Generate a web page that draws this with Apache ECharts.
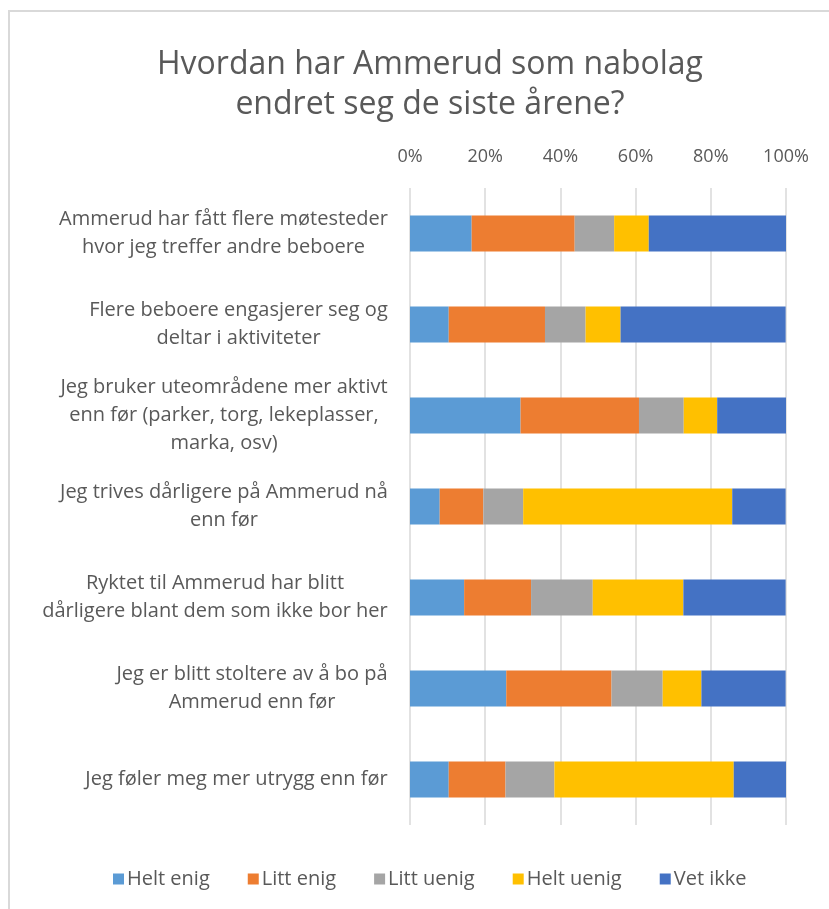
<!DOCTYPE html>
<html>
<head>
<meta charset="utf-8">
<script src="https://cdn.jsdelivr.net/npm/echarts@6/dist/echarts.min.js"></script>
<style>
  html, body { margin: 0; padding: 0; background: #fff; }
  #main { width: 829px; height: 909px; }
</style>
</head>
<body>
<div id="main"></div>
<script>
// kategorier (linjeskift slik de vises i figuren)
var categories = [
  'Ammerud har fått flere møtesteder\nhvor jeg treffer andre beboere',
  'Flere beboere engasjerer seg og\ndeltar i aktiviteter',
  'Jeg bruker uteområdene mer aktivt\nenn før (parker, torg, lekeplasser,\nmarka, osv)',
  'Jeg trives dårligere på Ammerud nå\nenn før',
  'Ryktet til Ammerud har blitt\ndårligere blant dem som ikke bor her',
  'Jeg er blitt stoltere av å bo på\nAmmerud enn før',
  'Jeg føler meg mer utrygg enn før'
];

// andeler i prosent, lest av figuren
var heltEnig  = [16.4, 10.3, 29.4,  7.9, 14.4, 25.6, 10.3];
var littEnig  = [27.4, 25.6, 31.5, 11.6, 17.8, 28.0, 15.1];
var littUenig = [10.5, 10.8, 11.9, 10.6, 16.4, 13.6, 13.0];
var heltUenig = [ 9.2,  9.3,  8.9, 55.6, 24.1, 10.3, 47.7];
var vetIkke   = [36.5, 43.9, 18.4, 14.2, 27.2, 22.4, 13.9];

var seriesNames = ['Helt enig', 'Litt enig', 'Litt uenig', 'Helt uenig', 'Vet ikke'];
var seriesData = [heltEnig, littEnig, littUenig, heltUenig, vetIkke];
var colors = ['#5B9BD5', '#ED7D31', '#A5A5A5', '#FFC000', '#4472C4'];

var FONT = 'Open Sans';
var TEXT = '#595959';
var LABEL_SIZE = 20;

// hver etikett: linjene sentrert innenfor blokken, blokken høyrejustert mot aksen
var ctx = document.createElement('canvas').getContext('2d');
ctx.font = LABEL_SIZE + 'px "' + FONT + '"';
var labelRich = {};
categories.forEach(function (c, i) {
  var w = 0;
  c.split('\n').forEach(function (l) { w = Math.max(w, ctx.measureText(l).width); });
  labelRich['l' + i] = {
    width: Math.ceil(w),
    align: 'center',
    fontFamily: FONT,
    fontSize: LABEL_SIZE,
    color: TEXT,
    lineHeight: 28
  };
});

var myChart = echarts.init(document.getElementById('main'));

var option = {
  color: colors,
  animation: false,
  title: {
    text: 'Hvordan har Ammerud som nabolag\nendret seg de siste årene?',
    left: 425,
    top: 40,
    textAlign: 'center',
    textStyle: {
      fontFamily: FONT,
      fontSize: 32,
      fontWeight: 'normal',
      color: TEXT,
      lineHeight: 40
    }
  },
  legend: {
    bottom: 15,
    left: 108,
    itemWidth: 11,
    itemHeight: 11,
    itemGap: 38,
    icon: 'rect',
    textStyle: { fontFamily: FONT, fontSize: 20, color: TEXT, padding: [0, 0, 0, -2] },
    data: seriesNames
  },
  grid: {
    left: 410,
    right: 43,
    top: 188,
    bottom: 84
  },
  xAxis: {
    type: 'value',
    position: 'top',
    min: 0,
    max: 100,
    interval: 20,
    axisLine: { show: false },
    axisTick: { show: false },
    axisLabel: {
      formatter: '{value}%',
      fontFamily: FONT,
      fontSize: 18,
      color: TEXT,
      margin: 22
    },
    splitLine: { lineStyle: { color: '#d9d9d9', width: 1.5 } }
  },
  yAxis: {
    type: 'category',
    inverse: true,
    data: categories,
    axisLine: { show: false },
    axisTick: { show: false },
    axisLabel: {
      margin: 22,
      align: 'right',
      formatter: function (v, idx) {
        return v.split('\n').map(function (l) { return '{l' + idx + '|' + l + '}'; }).join('\n');
      },
      rich: labelRich
    }
  },
  graphic: [
    { type: 'line', shape: { x1: 8, y1: 11, x2: 829, y2: 11 }, style: { stroke: '#d9d9d9', lineWidth: 2 } },
    { type: 'line', shape: { x1: 9, y1: 11, x2: 9, y2: 909 }, style: { stroke: '#d9d9d9', lineWidth: 2 } }
  ],
  series: seriesNames.map(function (name, i) {
    return {
      name: name,
      type: 'bar',
      stack: 'total',
      barWidth: 36,
      data: seriesData[i]
    };
  })
};

myChart.setOption(option, true);
</script>
</body>
</html>
